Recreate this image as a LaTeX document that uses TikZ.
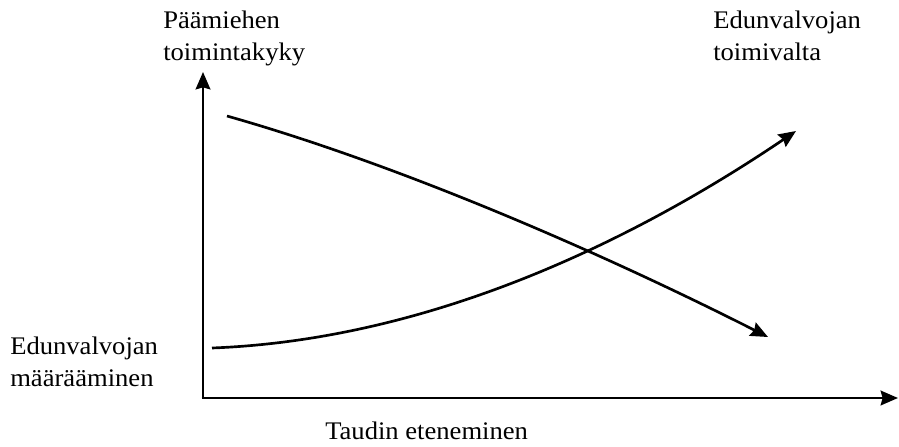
\documentclass[tikz,border=0pt]{standalone}
\usepackage{fontspec}
\setmainfont{Liberation Serif}[FakeStretch=1.05]
\usetikzlibrary{arrows.meta, positioning}
\tikzset{
  axisline/.style = {-{Stealth[length=13pt, width=11pt, inset=1.5pt]}, line width=2pt, black},
  trend/.style    = {-{Stealth[length=13pt, width=11pt, inset=1.5pt]}, line width=2pt, black},
  lbl/.style      = {inner sep=0pt, align=left, font=\fontsize{19pt}{24pt}\selectfont},
}
\begin{document}
\begin{tikzpicture}[x=0.75pt, y=-0.75pt]
  \useasboundingbox (0,0) rectangle (899,446);
  % axes
  \coordinate (O) at (203,398);
  \coordinate (ytop) at (203,72);
  \coordinate (xend) at (898,398);
  \draw[axisline] (O) -- (ytop);
  \draw[axisline, shorten <=-1pt] (O) -- (xend);
  % labels
  \node[lbl, anchor=north west] (ylab) at (163,11) {Päämiehen\\toimintakyky};
  \node[lbl, anchor=north west] (rlab) at (713,11) {Edunvalvojan\\toimivalta};
  \node[lbl, anchor=north west] (llab) at (10,337) {Edunvalvojan\\määrääminen};
  \node[lbl, anchor=north west] (xlab) at (325,422) {Taudin eteneminen};
  % curves
  \coordinate (dstart) at (227,116);
  \coordinate (dend) at (768,337);
  \coordinate (ustart) at (212,348);
  \coordinate (uend) at (796,131);
  \draw[trend] (dstart) .. controls (400,165) and (600,252) .. (dend);
  \draw[trend] (ustart) .. controls (420,340) and (620,250) .. (uend);
\end{tikzpicture}
\end{document}
